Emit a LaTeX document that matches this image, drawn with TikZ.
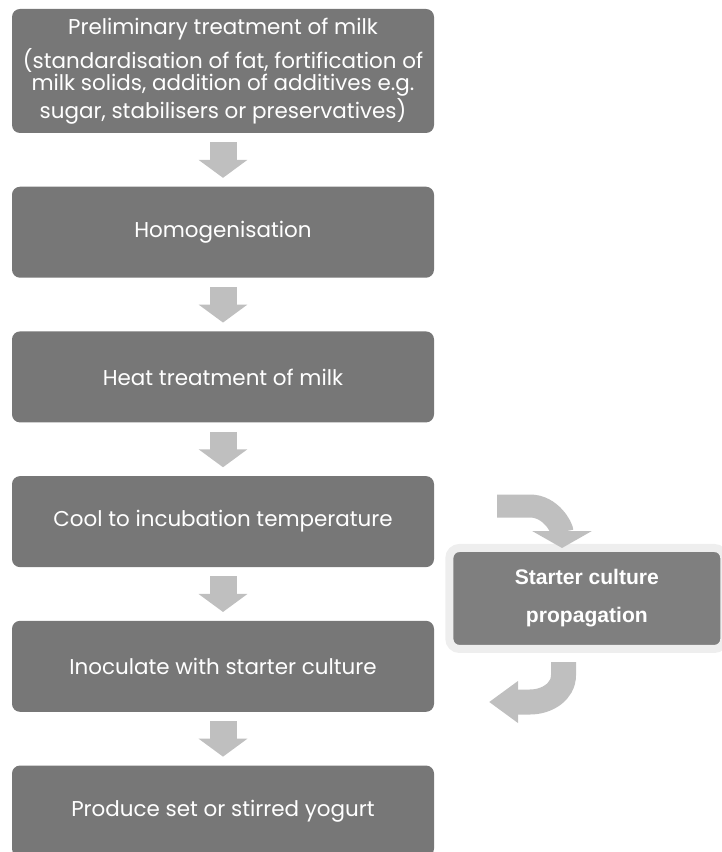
\documentclass[tikz,border=0pt]{standalone}
\usepackage{fontspec}
\newfontfamily\stagefont{Poppins}
\newfontfamily\culturefont{Liberation Sans}
\usetikzlibrary{arrows.meta,calc,positioning}
\definecolor{boxgray}{HTML}{777777}
\definecolor{culturegray}{HTML}{7F7F7F}
\definecolor{rimgray}{HTML}{EEEEEE}
\definecolor{arrowgray}{HTML}{BFBFBF}
\tikzset{stage/.style={
        fill=boxgray,
        rounded corners=0.16cm,
        text=white,
        minimum width=8.44cm,
        minimum height=1.82cm,
        align=center,
        font=\stagefont\fontsize{12.2}{12.4}\selectfont,
    },
    culture/.style={
        fill=culturegray,
        draw=rimgray,
        line width=0.16cm,
        rounded corners=0.2cm,
        text=white,
        minimum width=5.5cm,
        minimum height=2.02cm,
        align=center,
        font=\culturefont\bfseries\fontsize{12}{21.6}\selectfont,
    },
    flow/.style={
        color=arrowgray,
        line width=0.54cm,
        shorten <=0.18cm,
        shorten >=0.17cm,
        -{Triangle[length=0.36cm,width=0.96cm]},
    },
    bent/.style={
        color=arrowgray,
        line width=0.46cm,
        -{Triangle[length=0.34cm,width=1.18cm]},
    }
}

\begin{document}
\begin{tikzpicture}[node distance=1.06cm]
  \useasboundingbox (0,0) rectangle (14.42,-17.04);
  \node[stage, minimum height=2.48cm] (prelim) at (4.46,-1.42)
    {Preliminary treatment of milk\\[0.14cm]
     (standardisation of fat, fortification of\\
     milk solids, addition of additives e.g.\\
     sugar, stabilisers or preservatives)};
  \node[stage] (homog) [below=of prelim] {Homogenisation};
  \node[stage] (heat) [below=of homog] {Heat treatment of milk};
  \node[stage] (cool) [below=of heat] {Cool to incubation temperature};
  \node[stage] (inoc) [below=of cool] {Inoculate with starter culture};
  \node[stage] (yogurt) [below=of inoc] {Produce set or stirred yogurt};
  % starter culture on the side
  \coordinate (mid) at ($(cool.east)!0.5!(inoc.east)$);
  \node[culture, right=0.22cm of mid, yshift=-0.09cm] (culture)
    {Starter culture\\propagation};
  \coordinate (feed) at (9.94,-10.12);
  \coordinate (feedtip) at (11.24,-10.96);
  \coordinate (back) at (11.27,-13.24);
  \coordinate (backtip) at (9.78,-14.04);
  \path[flow]
  (prelim) edge (homog)
  (homog) edge (heat)
  (heat) edge (cool)
  (cool) edge (inoc)
  (inoc) edge (yogurt)
  ;
  \draw[bent] (feed) -- ++(0.66,0) to[out=0,in=90] (feedtip);
  \draw[bent, line width=0.5cm, -{Triangle[length=0.58cm,width=0.8cm]}]
    (back) -- ++(0,-0.26) to[out=-90,in=0] ($(backtip)+(0.82,0)$) -- (backtip);
\end{tikzpicture}
\end{document}
